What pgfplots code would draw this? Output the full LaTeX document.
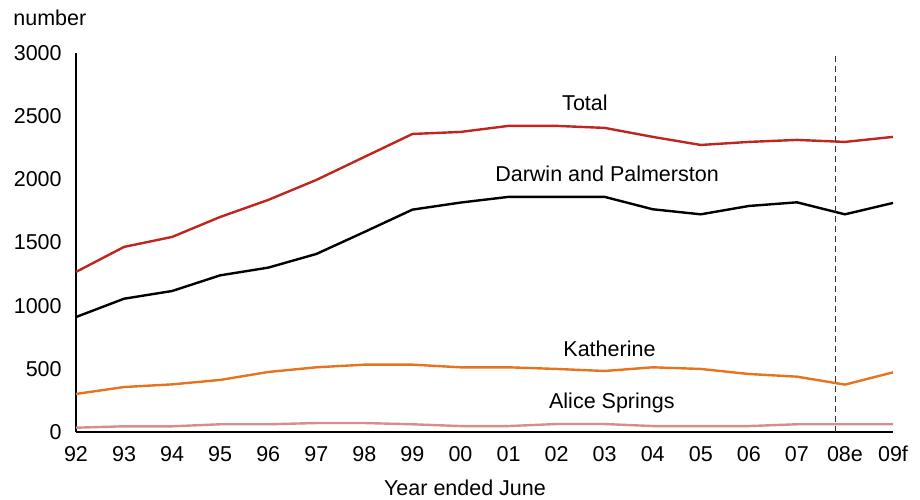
\documentclass[border=0pt]{standalone}
\usepackage{pgfplots}
\pgfplotsset{compat=1.18}
\usepackage{fontspec}
\setmainfont{Liberation Sans}
\definecolor{cTotal}{RGB}{192,38,30}
\definecolor{cKath}{RGB}{232,115,30}
\definecolor{cAlice}{RGB}{218,140,140}
\begin{document}
\fontsize{21.5bp}{25bp}\selectfont
\begin{tikzpicture}[x=1bp,y=1bp]
\useasboundingbox (0,0) rectangle (920,500);
\node[anchor=west] at (6,482) {number};
\node at (465,12) {Year ended June};
\begin{axis}[
  at={(76bp,68bp)}, anchor=south west,
  scale only axis, width=817bp, height=379bp,
  xmin=0, xmax=17, ymin=0, ymax=3000,
  axis x line=bottom, axis y line=left,
  axis line style={-, line width=1.2bp},
  major tick length=0pt,
  xtick={0,...,17},
  xticklabels={92,93,94,95,96,97,98,99,00,01,02,03,04,05,06,07,08e,09f},
  ytick={0,500,1000,1500,2000,2500,3000},
  yticklabel style={font=\fontsize{21.5bp}{25bp}\selectfont, xshift=-7bp},
  xticklabel style={font=\fontsize{21.5bp}{25bp}\selectfont, yshift=-7bp},
  /pgf/number format/assume math mode=true,
  /pgf/number format/1000 sep={},
  clip=false,
  every axis plot/.append style={line width=2.4bp, mark=none},
]
\addplot[cAlice] coordinates {(0,34)(1,45)(2,45)(3,61)(4,61)(5,71)(6,71)(7,61)(8,47)(9,47)(10,63)(11,63)(12,47)(13,47)(14,47)(15,61)(16,61)(17,61)};
\addplot[cKath] coordinates {(0,301)(1,356)(2,377)(3,412)(4,475)(5,512)(6,533)(7,533)(8,512)(9,512)(10,499)(11,483)(12,512)(13,499)(14,459)(15,438)(16,375)(17,472)};
\addplot[black] coordinates {(0,910)(1,1055)(2,1116)(3,1240)(4,1301)(5,1409)(6,1583)(7,1760)(8,1816)(9,1861)(10,1861)(11,1861)(12,1763)(13,1723)(14,1789)(15,1818)(16,1723)(17,1813)};
\addplot[cTotal] coordinates {(0,1267)(1,1465)(2,1544)(3,1702)(4,1837)(5,1995)(6,2177)(7,2359)(8,2375)(9,2423)(10,2423)(11,2407)(12,2336)(13,2272)(14,2296)(15,2312)(16,2296)(17,2336)};
\draw[black!80, line width=1.6bp, dash pattern=on 6bp off 4bp] (axis cs:15.8,0) -- (axis cs:15.8,2975);
\node at (axis cs:10.59,2605) {Total};
\node at (axis cs:11.05,2043) {Darwin and Palmerston};
\node at (axis cs:11.1,657) {Katherine};
\node at (axis cs:11.15,230) {Alice Springs};
\end{axis}
\end{tikzpicture}
\end{document}
